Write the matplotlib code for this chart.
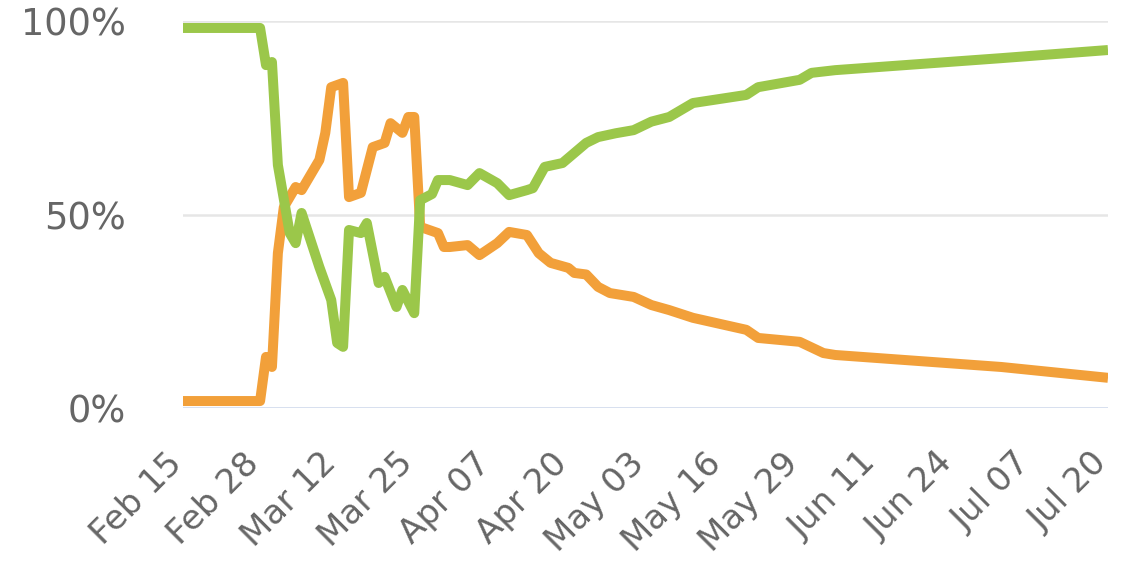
"""
share of two groups over time, Feb 15 - Jul 20
"""
import datetime as dt
import matplotlib as mpl
mpl.use('Agg')
from matplotlib import pyplot as plt
from matplotlib import dates as mdates
from matplotlib.transforms import ScaledTranslation

start = dt.date(2020, 2, 15)

# day offsets from Feb 15 and share in percent
green_day = [0, 13, 14, 15, 16, 18, 19, 20, 23, 25, 26, 27, 28, 30, 31, 33, 34, 36, 37,
             39, 40, 42, 43, 45, 48, 50, 53, 55, 58, 59, 61, 64, 66, 68, 70, 73, 76,
             79, 82, 86, 95, 97, 104, 106, 110, 138, 156]
green_pct = [98.2, 98.2, 88.6, 89.4, 62.8, 45.2, 42.6, 50.4, 36.4, 27.9, 16.8, 15.8, 46.0,
             45.2, 47.8, 32.3, 33.9, 26.1, 30.5, 24.5, 53.7, 55.3, 58.9, 58.9, 57.6, 60.7,
             58.1, 55.0, 56.3, 56.8, 62.3, 63.3, 65.9, 68.5, 70.0, 71.0, 71.8, 74.0, 75.2,
             78.8, 80.9, 82.9, 84.8, 86.6, 87.3, 90.4, 92.5]

orange_day = [0, 13, 14, 15, 16, 17, 19, 20, 23, 24, 25, 27, 28, 30, 32, 34, 35, 37, 38,
              39, 40, 43, 44, 45, 48, 50, 53, 55, 58, 60, 62, 65, 66, 68, 70, 72, 76,
              79, 82, 86, 95, 97, 104, 108, 110, 138, 156]
orange_pct = [1.8, 1.8, 13.2, 10.6, 40.0, 51.9, 57.1, 56.3, 64.1, 71.1, 82.9, 84.0, 54.5,
              55.6, 67.4, 68.5, 73.6, 71.1, 75.2, 75.2, 46.8, 45.2, 41.6, 41.6, 42.1, 39.5,
              42.6, 45.5, 44.7, 40.0, 37.5, 36.2, 34.9, 34.5, 31.3, 29.7, 28.7, 26.6, 25.3,
              23.3, 20.2, 18.1, 17.1, 14.2, 13.7, 10.6, 7.8]

tick_days = list(range(0, 157, 13))
y_ticks = [0, 50, 100]
y_labels = ['0%', '50%', '100%']

GREEN = '#9bc74a'
ORANGE = '#f2a03a'
TEXT = '#666666'


def to_dates(days):
    return [start + dt.timedelta(days=d) for d in days]


def make_figure():
    plt.rcParams.update({'font.family': 'DejaVu Sans',
                         'font.size': 25})
    fig = plt.figure(figsize=(11.25, 5.67), dpi=100)
    ax = fig.add_axes([183/1125, 159/567, 925/1125, 387/567])

    ax.plot(to_dates(orange_day), orange_pct, color=ORANGE, lw=7.2,
            solid_joinstyle='round', solid_capstyle='butt', zorder=3)
    ax.plot(to_dates(green_day), green_pct, color=GREEN, lw=7.2,
            solid_joinstyle='round', solid_capstyle='butt', zorder=4)

    ax.set_xlim(to_dates([0])[0], to_dates([156])[0])
    ax.set_ylim(0, 100)

    for y in y_ticks[1:]:
        ax.axhline(y, color='#e6e6e6', lw=1.8, zorder=1)
    ax.axhline(0, color='#ccd6eb', lw=1.8, zorder=2)

    for s in ax.spines.values():
        s.set_visible(False)

    ax.set_yticks(y_ticks)
    ax.set_yticklabels(y_labels)
    ax.tick_params(axis='y', length=0, pad=41, colors=TEXT, labelsize=26.5)

    ax.set_xticks(to_dates(tick_days))
    ax.xaxis.set_major_formatter(mdates.DateFormatter('%b %d'))
    ax.tick_params(axis='x', length=0, pad=36, colors=TEXT, labelsize=24.5)
    shift = ScaledTranslation(-6/100, 0, fig.dpi_scale_trans)
    for lab in ax.get_xticklabels():
        lab.set_rotation(45)
        lab.set_ha('right')
        lab.set_va('center')
        lab.set_rotation_mode('anchor')
        lab.set_transform(lab.get_transform() + shift)

    fig.savefig('out.png', dpi=100, facecolor='white')


if __name__ == "__main__":
    make_figure()
